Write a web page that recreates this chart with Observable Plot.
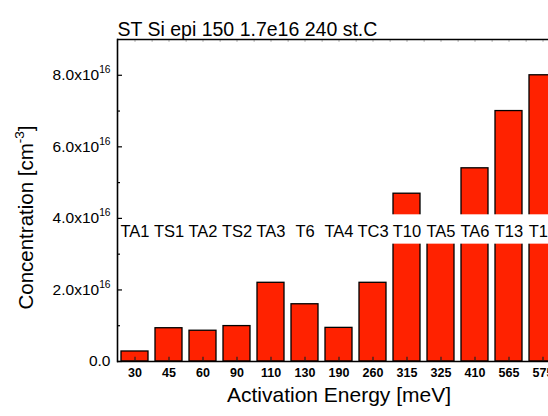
<!DOCTYPE html>
<html>
<head>
<meta charset="utf-8">
<script src="https://cdn.jsdelivr.net/npm/d3@7"></script>
<script src="https://cdn.jsdelivr.net/npm/@observablehq/plot@0.6"></script>
<style>
  html, body { margin: 0; padding: 0; background: white; overflow: hidden; }
</style>
</head>
<body>
<script>
const energies = ["30", "45", "60", "90", "110", "130", "190", "260", "315", "325", "410", "565", "575"];
const concentrations = [0.28e16, 0.93e16, 0.86e16, 0.99e16, 2.2e16, 1.6e16, 0.94e16, 2.2e16, 4.69e16, 3.5e16, 5.4e16, 7.0e16, 8.0e16];
const peakLabels = ["TA1", "TS1", "TA2", "TS2", "TA3", "T6", "TA4", "TC3", "T10", "TA5", "TA6", "T13", "T14"];
const yMajorTicks = [0, 2e16, 4e16, 6e16, 8e16];
const yMinorTicks = [1e16, 3e16, 5e16, 7e16];
const yTickLabels = ["0.0", "2.0x10^16", "4.0x10^16", "6.0x10^16", "8.0x10^16"];
const title = "ST Si epi 150 1.7e16 240 st.C";
const xTitle = "Activation Energy [meV]";
const yTitle = "Concentration [cm^-3|]";

const data = energies.map((e, i) => ({energy: e, conc: concentrations[i], label: peakLabels[i]}));

const chart = Plot.plot({
  width: 548,
  height: 416,
  marginLeft: 117,
  marginRight: 0,
  marginTop: 39,
  marginBottom: 55,
  style: {fontFamily: "'Liberation Sans', Arial, sans-serif", background: "white", color: "black"},
  x: {type: "band", domain: energies, range: [115.7, 560.95], paddingInner: 0.2, paddingOuter: 0.1},
  y: {domain: [0, 9e16]},
  marks: [
    Plot.barY(data, {x: "energy", y: "conc", fill: "#ff2200", stroke: "black", strokeWidth: 1.3}),
    Plot.ruleX(data, {x: "energy", y1: 0, y2: 0.12e16, stroke: "#222", strokeWidth: 1.2}),
    Plot.barY(data, {x: "energy", y1: 3.28e16, y2: 4.1e16, fill: "white", insetLeft: -1.2, insetRight: -1.2}),
    Plot.text(data, {x: "energy", y: 3.64e16, text: "label", fontSize: 16.5, fill: "black"}),
    Plot.ruleX(data, {x: "energy", y1: 9e16, y2: 8.92e16, stroke: "#999", strokeWidth: 0.8}),
    Plot.ruleX(data, {x: "energy", y1: 9e16, y2: 8.92e16, stroke: "#999", strokeWidth: 0.8, dx: 17.125}),
    Plot.ruleY([0, 9e16], {stroke: "black", strokeWidth: 1.6}),
    Plot.frame({anchor: "left", stroke: "black", strokeWidth: 1.6}),
    Plot.axisY({ticks: yMajorTicks, tickSize: -5, tickFormat: () => "", label: null, strokeWidth: 1.2}),
    Plot.axisY({ticks: yMinorTicks, tickSize: -3, tickFormat: () => "", label: null, strokeWidth: 1.2}),
    Plot.axisY({ticks: yMajorTicks, tickSize: 0, tickPadding: 7, fontSize: 15.5,
      tickFormat: d => yTickLabels[yMajorTicks.indexOf(d)], label: null}),
    Plot.axisX({tickSize: 0, tickPadding: 7, fontSize: 12.5, fontWeight: "bold", label: null}),
    Plot.text([title], {text: d => d, frameAnchor: "top-left", textAnchor: "start", dy: -17.7, fontSize: 19.5}),
    Plot.text([xTitle], {text: d => d, frameAnchor: "bottom", dx: 6, dy: 40, fontSize: 21}),
    Plot.text([yTitle], {text: d => d, frameAnchor: "left", textAnchor: "middle", rotate: -90, dx: -91, dy: 17, fontSize: 20.5})
  ]
});
document.body.append(chart);

// superscripts: "base^sup|rest"
chart.querySelectorAll("text").forEach(t => {
  const s = t.textContent;
  if (!s.includes("^")) return;
  const fs = parseFloat(getComputedStyle(t).fontSize);
  const [base, tail] = s.split("^");
  const [sup, rest] = tail.split("|");
  const ns = "http://www.w3.org/2000/svg";
  t.textContent = "";
  const a = document.createElementNS(ns, "tspan");
  a.textContent = base;
  t.appendChild(a);
  const b = document.createElementNS(ns, "tspan");
  b.textContent = sup;
  const shift = fs * 0.45;
  b.setAttribute("dy", -shift);
  b.setAttribute("font-size", fs * 0.66);
  t.appendChild(b);
  if (rest) {
    const c = document.createElementNS(ns, "tspan");
    c.textContent = rest;
    c.setAttribute("dy", shift);
    t.appendChild(c);
  }
});
</script>
</body>
</html>
